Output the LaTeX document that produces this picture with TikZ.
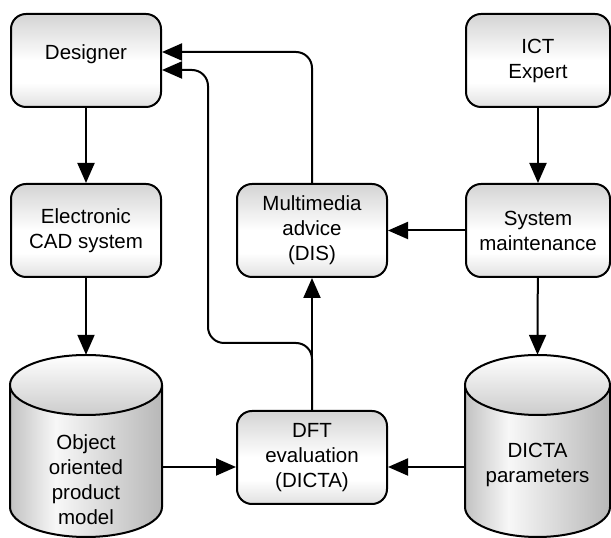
\documentclass[tikz,border=0pt]{standalone}
\usepackage{fontspec}
\setmainfont{Liberation Sans}
\usetikzlibrary{arrows.meta}

% soft grey-white-grey fill for the rounded boxes (bottom to top)
\pgfdeclareverticalshading{panelshade}{100bp}{%
  color(0bp)=(black!12); color(25bp)=(black!12); color(38bp)=(white);
  color(50bp)=(white); color(75bp)=(black!17); color(100bp)=(black!17)}
% side-lit body of the drums (left to right)
\pgfdeclarehorizontalshading{drumshade}{100bp}{%
  color(0bp)=(black!24); color(25bp)=(black!24); color(40bp)=(white!97!black);
  color(75bp)=(black!28); color(100bp)=(black!28)}

\begin{document}
\begin{tikzpicture}[x=1pt,y=1pt,
  every node/.style={font=\fontsize{20.5}{25}\selectfont},
  panel/.style={draw, line width=2pt, rounded corners=15pt, shade, shading=panelshade,
    minimum width=150pt, minimum height=93pt, align=center, inner sep=0pt},
  narrowpanel/.style={panel, minimum width=144pt},
  drum/.style={inner sep=0pt},
  drumline/.style={line width=2pt},
  arr/.style={line width=2pt, -{Triangle[length=20pt,width=17pt]}},
  loopline/.style={arr, rounded corners=16pt}]

\useasboundingbox (0,0) rectangle (611,538);

% ---------- boxes ----------
\node[panel, text height=15pt, text depth=17pt] (designer) at (86,477.5) {Designer};
\node[panel] (cad) at (86,307.5) {Electronic\\CAD system};
\node[panel] (mm) at (312,307.5) {Multimedia\\advice\\(DIS)};
\node[panel] (dft) at (312,80.5) {DFT\\evaluation\\(DICTA)};
\node[narrowpanel] (ict) at (538,477.5) {ICT\\Expert};
\node[narrowpanel] (sys) at (538,307.5) {System\\maintenance};

% ---------- drums ----------
% object oriented product model
\node[drum, minimum width=152pt, minimum height=182pt] (opm) at (86,92) {};
\shade[shading=drumshade] (10,153) -- (10,31)
  arc[start angle=180, end angle=360, x radius=76, y radius=30] -- (162,153) -- cycle;
\draw[drumline] (10,153) -- (10,31)
  arc[start angle=180, end angle=360, x radius=76, y radius=30] -- (162,153);
\draw[drumline, top color=white, bottom color=black!20] (86,153) ellipse[x radius=76, y radius=30];
\node[align=center] (opmText) at (86,58) {Object\\oriented\\product\\model};

% DICTA parameters
\node[drum, minimum width=145pt, minimum height=182pt] (par) at (537.5,92) {};
\shade[shading=drumshade] (465,153) -- (465,31)
  arc[start angle=180, end angle=360, x radius=72.5, y radius=30] -- (610,153) -- cycle;
\draw[drumline] (465,153) -- (465,31)
  arc[start angle=180, end angle=360, x radius=72.5, y radius=30] -- (610,153);
\draw[drumline, top color=white, bottom color=black!20] (537.5,153) ellipse[x radius=72.5, y radius=30];
\node[align=center] (parText) at (537.5,73) {DICTA\\parameters};

% ---------- connectors ----------
\coordinate (dftIn) at ([yshift=-9.5pt]dft.west);
\coordinate (dftInR) at ([yshift=-9.5pt]dft.east);
\coordinate (desIn1) at ([yshift=8.5pt]designer.east);
\coordinate (desIn2) at ([yshift=-9.5pt]designer.east);
\coordinate (loopCorner) at (208,195);

\draw[arr] (designer) -- (cad);
\draw[arr] (cad) -- (opm.north);
\draw[arr] (ict) -- (sys);
\draw[arr] (sys) -- (par.north);
\draw[arr] (sys) -- (mm);
\draw[arr] (opm.east |- dftIn) -- (dftIn);
\draw[arr] (par.west |- dftInR) -- (dftInR);
\draw[arr] (dft) -- (mm);
\draw[loopline] (mm.north) |- (desIn1);
\draw[loopline] (dft.north) |- (loopCorner) |- (desIn2);

\end{tikzpicture}
\end{document}
